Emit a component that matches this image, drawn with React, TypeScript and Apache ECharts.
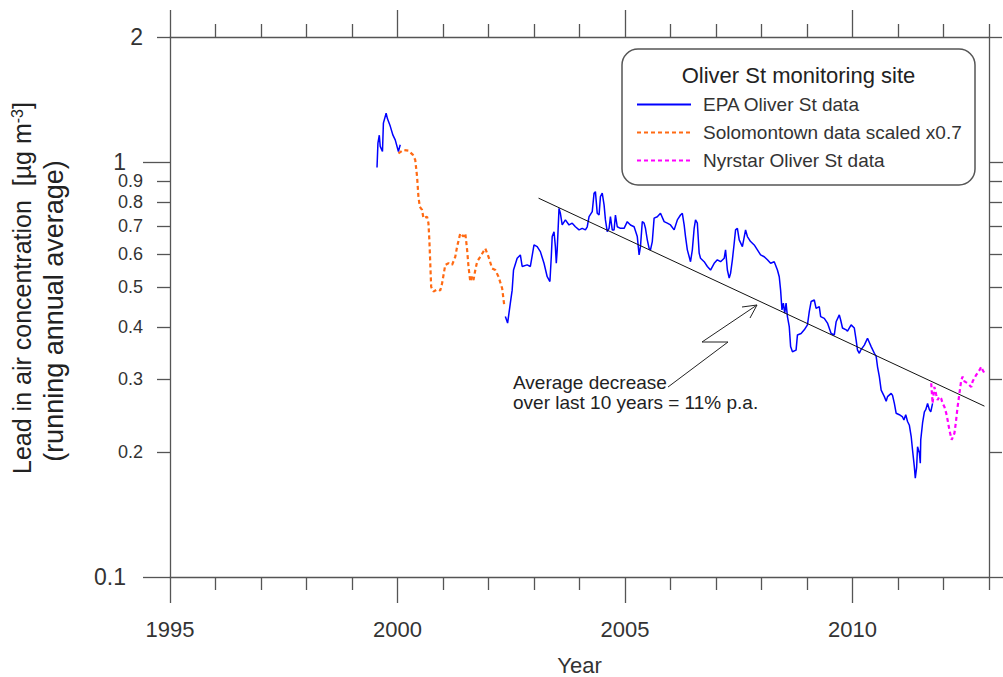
import React, { useEffect, useRef } from "react";
import * as echarts from "echarts";

const FONT = "'Liberation Sans', Arial, Helvetica, sans-serif";

const xMajorTicks = [1995, 2000, 2005, 2010];
const xMinorTicks = [1996, 1997, 1998, 1999, 2001, 2002, 2003, 2004, 2006, 2007, 2008, 2009, 2011, 2012, 2013];
const yMajorTicks = [0.1, 1];
const yMinorTicks = [0.2, 0.3, 0.4, 0.5, 0.6, 0.7, 0.8, 0.9, 2];

const seriesNames = ["EPA Oliver St data", "Solomontown data scaled x0.7", "Nyrstar Oliver St data"];

// EPA Oliver St data (running annual average, µg/m3); null = gap in record
const epaData = [
  [1999.55, 0.97], [1999.57, 1.11], [1999.6, 1.16], [1999.62, 1.09], [1999.67, 1.06], [1999.69, 1.24],
  [1999.75, 1.31], [1999.78, 1.27], [1999.84, 1.22], [1999.9, 1.16], [1999.95, 1.13], [2000.02, 1.06],
  [2000.06, 1.1],
  [2001.0, null],
  [2002.37, 0.424], [2002.42, 0.409], [2002.48, 0.457], [2002.52, 0.491], [2002.55, 0.549], [2002.63, 0.586],
  [2002.7, 0.597], [2002.74, 0.56], [2002.85, 0.565], [2002.92, 0.56], [2003.0, 0.631], [2003.07, 0.625],
  [2003.14, 0.608], [2003.22, 0.57], [2003.29, 0.529], [2003.35, 0.515], [2003.38, 0.591], [2003.4, 0.661],
  [2003.44, 0.679], [2003.47, 0.625], [2003.49, 0.57], [2003.51, 0.614], [2003.55, 0.773], [2003.58, 0.752],
  [2003.62, 0.705], [2003.69, 0.725], [2003.77, 0.705], [2003.84, 0.712], [2003.91, 0.698], [2003.99, 0.686],
  [2004.06, 0.692], [2004.13, 0.686], [2004.17, 0.698], [2004.21, 0.738], [2004.28, 0.759], [2004.32, 0.841],
  [2004.35, 0.848], [2004.39, 0.752], [2004.43, 0.745], [2004.46, 0.825], [2004.5, 0.841], [2004.54, 0.788],
  [2004.57, 0.725], [2004.61, 0.679], [2004.65, 0.692], [2004.68, 0.738], [2004.72, 0.686], [2004.76, 0.686],
  [2004.79, 0.745], [2004.83, 0.698], [2004.9, 0.692], [2004.98, 0.692], [2005.05, 0.718], [2005.12, 0.705],
  [2005.2, 0.698], [2005.27, 0.661], [2005.31, 0.597], [2005.34, 0.625], [2005.38, 0.718], [2005.42, 0.712],
  [2005.45, 0.692], [2005.49, 0.649], [2005.53, 0.619], [2005.56, 0.614], [2005.6, 0.643], [2005.64, 0.732],
  [2005.71, 0.738], [2005.78, 0.752], [2005.86, 0.718], [2005.93, 0.712], [2006.0, 0.705], [2006.08, 0.686],
  [2006.15, 0.725], [2006.22, 0.745], [2006.26, 0.752], [2006.3, 0.705], [2006.33, 0.661], [2006.37, 0.614],
  [2006.44, 0.575], [2006.48, 0.614], [2006.52, 0.692], [2006.55, 0.725], [2006.59, 0.712], [2006.63, 0.603],
  [2006.66, 0.586], [2006.74, 0.575], [2006.81, 0.56], [2006.88, 0.549], [2006.96, 0.57], [2007.03, 0.581],
  [2007.1, 0.575], [2007.18, 0.586], [2007.21, 0.614], [2007.25, 0.549], [2007.29, 0.525], [2007.32, 0.539],
  [2007.36, 0.581], [2007.4, 0.637], [2007.43, 0.686], [2007.47, 0.692], [2007.51, 0.649], [2007.58, 0.625],
  [2007.65, 0.686], [2007.69, 0.661], [2007.76, 0.643], [2007.84, 0.631], [2007.91, 0.614], [2007.98, 0.597],
  [2008.06, 0.591], [2008.13, 0.581], [2008.2, 0.57], [2008.28, 0.575], [2008.35, 0.549], [2008.39, 0.529],
  [2008.42, 0.491], [2008.45, 0.44], [2008.48, 0.457], [2008.51, 0.432], [2008.54, 0.457], [2008.57, 0.424],
  [2008.61, 0.401], [2008.64, 0.359], [2008.68, 0.349], [2008.76, 0.352], [2008.79, 0.383], [2008.87, 0.386],
  [2008.94, 0.394], [2009.01, 0.405], [2009.05, 0.436], [2009.09, 0.461], [2009.16, 0.465], [2009.2, 0.444],
  [2009.27, 0.448], [2009.3, 0.424], [2009.38, 0.42], [2009.45, 0.409], [2009.53, 0.386], [2009.6, 0.383],
  [2009.64, 0.412], [2009.71, 0.428], [2009.74, 0.416], [2009.78, 0.398], [2009.86, 0.394], [2009.89, 0.391],
  [2009.97, 0.405], [2010.04, 0.398], [2010.08, 0.372], [2010.11, 0.352], [2010.15, 0.346], [2010.18, 0.352],
  [2010.26, 0.362], [2010.33, 0.376], [2010.41, 0.359], [2010.48, 0.346], [2010.52, 0.34], [2010.55, 0.321],
  [2010.59, 0.304], [2010.63, 0.282], [2010.7, 0.272], [2010.74, 0.265], [2010.77, 0.272], [2010.85, 0.277],
  [2010.88, 0.274], [2010.92, 0.262], [2010.96, 0.248], [2011.03, 0.246], [2011.1, 0.243], [2011.13, 0.239],
  [2011.17, 0.246], [2011.21, 0.237], [2011.25, 0.232], [2011.29, 0.218], [2011.32, 0.202], [2011.36, 0.184],
  [2011.38, 0.173], [2011.41, 0.184], [2011.43, 0.206], [2011.47, 0.199], [2011.49, 0.188], [2011.5, 0.214],
  [2011.54, 0.235], [2011.58, 0.25], [2011.61, 0.253], [2011.65, 0.262], [2011.69, 0.253], [2011.72, 0.25],
  [2011.76, 0.262],
];

// Solomontown data scaled x0.7
const solomontownData = [
  [2000.02, 1.049], [2000.13, 1.069], [2000.24, 1.065], [2000.34, 1.04], [2000.39, 1.011], [2000.43, 0.922],
  [2000.46, 0.825], [2000.49, 0.78], [2000.54, 0.766], [2000.57, 0.732], [2000.65, 0.738], [2000.68, 0.712],
  [2000.7, 0.649], [2000.72, 0.57], [2000.74, 0.5], [2000.79, 0.487], [2000.87, 0.493], [2000.94, 0.49],
  [2000.98, 0.51], [2001.05, 0.565], [2001.12, 0.57], [2001.2, 0.565], [2001.27, 0.591], [2001.31, 0.625],
  [2001.38, 0.673], [2001.45, 0.661], [2001.49, 0.673], [2001.53, 0.614], [2001.56, 0.56], [2001.6, 0.515],
  [2001.64, 0.529], [2001.67, 0.519], [2001.71, 0.549], [2001.75, 0.575], [2001.82, 0.591], [2001.93, 0.619],
  [2002.0, 0.591], [2002.08, 0.554], [2002.15, 0.549], [2002.22, 0.529], [2002.3, 0.496], [2002.35, 0.448],
];

// Nyrstar Oliver St data
const nyrstarData = [
  [2011.73, 0.293], [2011.76, 0.262], [2011.8, 0.287], [2011.84, 0.275], [2011.87, 0.267], [2011.91, 0.272],
  [2011.95, 0.269], [2011.98, 0.262], [2012.02, 0.257], [2012.06, 0.248], [2012.09, 0.239], [2012.13, 0.226],
  [2012.18, 0.214], [2012.24, 0.222], [2012.27, 0.235], [2012.31, 0.257], [2012.35, 0.277], [2012.39, 0.298],
  [2012.42, 0.304], [2012.46, 0.296], [2012.53, 0.293], [2012.61, 0.287], [2012.64, 0.296], [2012.72, 0.307],
  [2012.79, 0.315], [2012.83, 0.321], [2012.86, 0.315], [2012.9, 0.31],
];

// Trend line (average decrease ~11% p.a.)
const trendData = [
  [2003.1, 0.818],
  [2012.9, 0.258],
];

const AXIS_COLOR = "#555";
const TEXT_COLOR = "#333";

function fmt(v: number) {
  return String(+Number(v).toPrecision(3));
}

function baseX(position: string) {
  return {
    type: "value",
    min: 1995,
    max: 2013,
    position,
    splitLine: { show: false },
    axisLine: { show: false, lineStyle: { color: AXIS_COLOR, width: 1.3 } },
    axisTick: { show: false },
    axisLabel: { show: false },
  };
}

function baseY(position: string) {
  return {
    type: "log",
    logBase: 10,
    min: 0.1,
    max: 2,
    position,
    splitLine: { show: false },
    axisLine: { show: false, lineStyle: { color: AXIS_COLOR, width: 1.3 } },
    axisTick: { show: false },
    axisLabel: { show: false },
  };
}

export default function App() {
  const ref = useRef<HTMLDivElement>(null);

  useEffect(() => {
    if (!ref.current) return;
    const chart = echarts.init(ref.current, null, { renderer: "svg" });
    const tickStyle = { color: AXIS_COLOR, width: 1.3 };

    const option: any = {
      animation: false,
      backgroundColor: "#fff",
      grid: { left: 170, right: 14, top: 37, bottom: 100, containLabel: false, outerBoundsMode: "none" },
      xAxis: [
        {
          ...baseX("bottom"),
          axisLine: { show: true, lineStyle: tickStyle },
          axisTick: { show: true, customValues: xMajorTicks, length: 26, lineStyle: tickStyle },
          axisLabel: {
            show: true,
            customValues: xMajorTicks,
            margin: 41,
            fontSize: 22,
            fontFamily: FONT,
            color: TEXT_COLOR,
            formatter: (v: number) => String(Math.round(v)),
          },
          name: "Year",
          nameLocation: "middle",
          nameGap: 77,
          nameTextStyle: { fontSize: 22, lineHeight: 22, fontFamily: FONT, color: TEXT_COLOR },
        },
        {
          ...baseX("bottom"),
          axisTick: { show: true, customValues: xMinorTicks, length: 13, lineStyle: tickStyle },
        },
        {
          ...baseX("top"),
          axisLine: { show: true, lineStyle: tickStyle },
          axisTick: { show: true, customValues: xMajorTicks, length: 27, lineStyle: tickStyle },
        },
        {
          ...baseX("top"),
          axisTick: { show: true, customValues: xMinorTicks, length: 13, lineStyle: tickStyle },
        },
      ],
      yAxis: [
        {
          ...baseY("left"),
          axisLine: { show: true, lineStyle: tickStyle },
          axisTick: { show: true, customValues: yMajorTicks, length: 27, lineStyle: tickStyle },
          axisLabel: {
            show: true,
            customValues: yMajorTicks,
            margin: 44,
            fontSize: 23,
            lineHeight: 18,
            fontFamily: FONT,
            color: TEXT_COLOR,
            formatter: (v: number) => fmt(v),
          },
        },
        {
          ...baseY("left"),
          axisTick: { show: true, customValues: yMinorTicks, length: 13, lineStyle: tickStyle },
          axisLabel: {
            show: true,
            customValues: yMinorTicks,
            margin: 27,
            fontFamily: FONT,
            color: TEXT_COLOR,
            formatter: (v: number) => (Math.abs(v - 2) < 1e-6 ? "{b|2}" : "{s|" + fmt(v) + "}"),
            rich: {
              b: { fontSize: 23, lineHeight: 18, fontFamily: FONT, color: TEXT_COLOR },
              s: { fontSize: 18, lineHeight: 14, fontFamily: FONT, color: TEXT_COLOR },
            },
          },
        },
        {
          ...baseY("right"),
          axisLine: { show: true, lineStyle: tickStyle },
          axisTick: { show: true, customValues: yMajorTicks, length: 27, lineStyle: tickStyle },
        },
        {
          ...baseY("right"),
          axisTick: { show: true, customValues: yMinorTicks, length: 13, lineStyle: tickStyle },
        },
      ],
      legend: {
        data: seriesNames,
        orient: "vertical",
        left: 636,
        top: 95,
        padding: 0,
        itemWidth: 54,
        itemHeight: 14,
        itemGap: 9,
        selectedMode: false,
        z: 10,
        itemStyle: { opacity: 0 },
        textStyle: { fontSize: 19, fontFamily: FONT, color: TEXT_COLOR, padding: [0, 0, 0, 7] },
      },
      series: [
        {
          type: "line",
          name: seriesNames[0],
          data: epaData,
          symbol: "none",
          connectNulls: false,
          lineStyle: { color: "#0000ff", width: 1.5 },
          itemStyle: { color: "#0000ff" },
          z: 3,
        },
        {
          type: "line",
          name: seriesNames[1],
          data: solomontownData,
          symbol: "none",
          lineStyle: { color: "#ff6a13", width: 2.2, type: [4, 3] },
          itemStyle: { color: "#ff6a13" },
          z: 3,
        },
        {
          type: "line",
          name: seriesNames[2],
          data: nyrstarData,
          symbol: "none",
          lineStyle: { color: "#ff00ff", width: 2.2, type: [4, 3] },
          itemStyle: { color: "#ff00ff" },
          z: 3,
        },
        {
          type: "line",
          name: "trend",
          data: trendData,
          symbol: "none",
          silent: true,
          lineStyle: { color: "#111", width: 1 },
          z: 4,
        },
      ],
      graphic: [
        {
          type: "rect",
          z: 8,
          shape: { x: 622, y: 49, width: 353, height: 136, r: 16 },
          style: { fill: "#fff", stroke: AXIS_COLOR, lineWidth: 1.5 },
        },
        {
          type: "text",
          z: 9,
          x: 798.5,
          y: 75,
          style: {
            text: "Oliver St monitoring site",
            fontSize: 22,
            fontFamily: FONT,
            fill: "#222",
            align: "center",
            verticalAlign: "middle",
          },
        },
        {
          type: "text",
          z: 9,
          x: 513,
          y: 382,
          style: {
            text: "Average decrease",
            fontSize: 19,
            fontFamily: FONT,
            fill: "#222",
            align: "left",
            verticalAlign: "middle",
          },
        },
        {
          type: "text",
          z: 9,
          x: 513,
          y: 402,
          style: {
            text: "over last 10 years = 11% p.a.",
            fontSize: 19,
            fontFamily: FONT,
            fill: "#222",
            align: "left",
            verticalAlign: "middle",
          },
        },
        {
          type: "polyline",
          z: 9,
          shape: { points: [[668, 387], [728, 342], [702, 342], [757, 305]] },
          style: { stroke: "#222", lineWidth: 1, fill: null },
        },
        {
          type: "polyline",
          z: 9,
          shape: { points: [[742, 307], [757, 305], [750, 318]] },
          style: { stroke: "#222", lineWidth: 1, fill: null },
        },
        {
          type: "text",
          z: 9,
          x: 22,
          y: 288,
          rotation: Math.PI / 2,
          style: {
            text: "Lead in air concentration  [µg m{sup|-3}]",
            fontSize: 25,
            fontFamily: FONT,
            fill: "#222",
            align: "center",
            verticalAlign: "middle",
            rich: {
              sup: { fontSize: 16, fontFamily: FONT, fill: "#222", verticalAlign: "top" },
            },
          },
        },
        {
          type: "text",
          z: 9,
          x: 54,
          y: 311,
          rotation: Math.PI / 2,
          style: {
            text: "(running annual average)",
            fontSize: 27,
            fontFamily: FONT,
            fill: "#222",
            align: "center",
            verticalAlign: "middle",
          },
        },
      ],
    };

    chart.setOption(option);
    return () => chart.dispose();
  }, []);

  return (
    <div
      ref={ref}
      style={{ position: "absolute", left: 0, top: 0, width: 1003, height: 677, background: "#fff" }}
    />
  );
}
